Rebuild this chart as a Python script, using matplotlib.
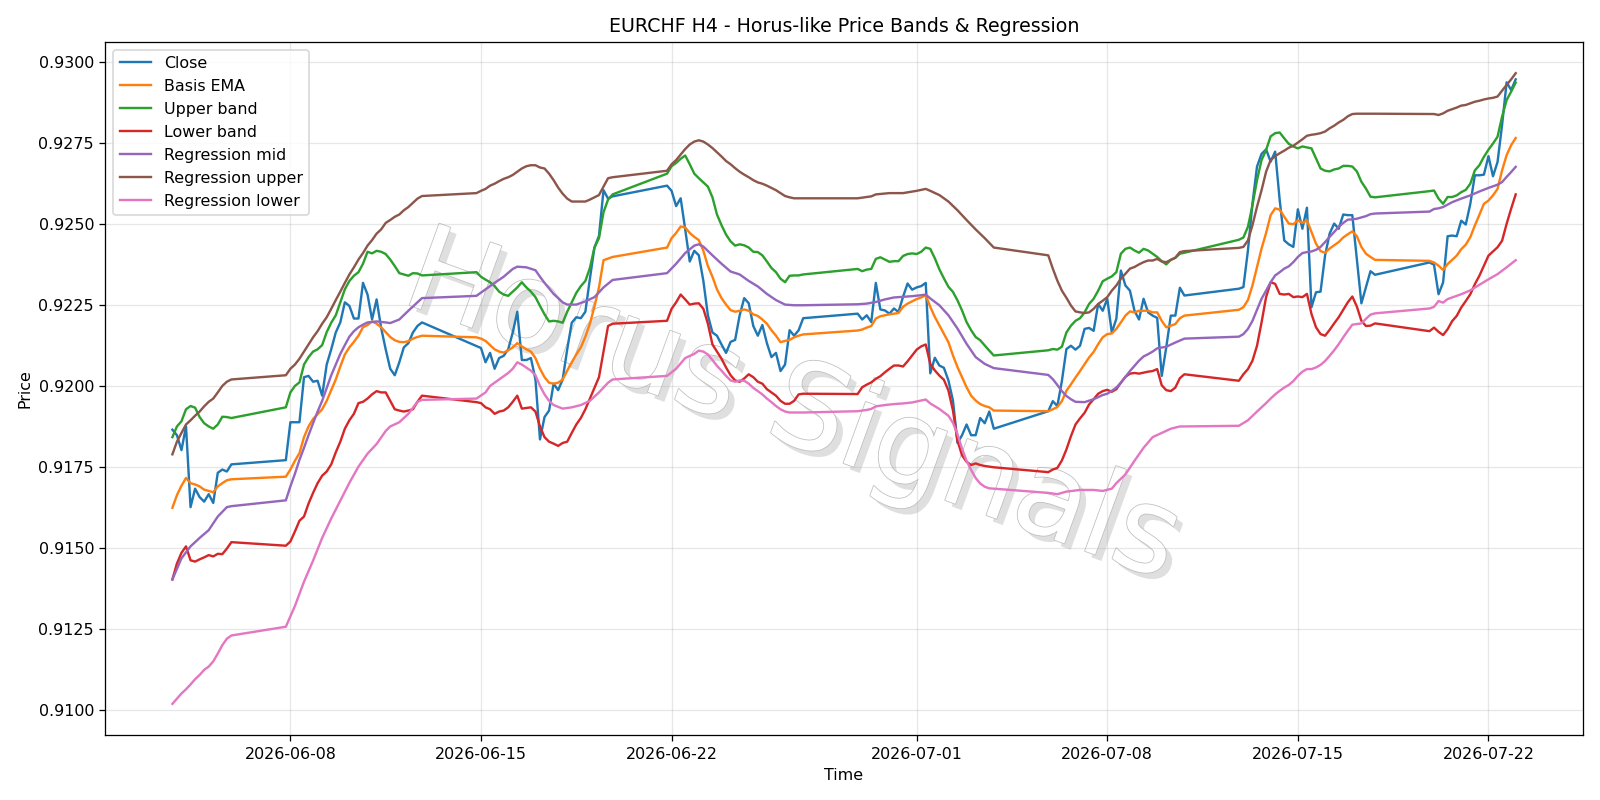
import matplotlib
matplotlib.use("Agg")
import matplotlib.pyplot as plt
import matplotlib.patheffects as pe
import pandas as pd

# H4 bars: Sunday 20:00 open ... Friday 20:00 last bar
ts = pd.date_range("2026-06-03 16:00", "2026-07-23 00:00", freq="4h")
ts = ts[(ts.dayofweek < 5) | ((ts.dayofweek == 6) & (ts.hour == 20))]

CLOSE = [
    0.91864, 0.91847, 0.91801, 0.91874, 0.91625, 0.91682, 0.91656, 0.91642, 0.91665, 0.91638, 0.91731, 0.91741, 0.91735, 0.91757,
    0.91770, 0.91887, 0.91887, 0.91887, 0.92026, 0.92030, 0.92012, 0.92015, 0.91969, 0.92065, 0.92112, 0.92164, 0.92195, 0.92257,
    0.92246, 0.92207, 0.92207, 0.92317, 0.92281, 0.92204, 0.92266, 0.92178, 0.92112, 0.92052, 0.92032, 0.92072, 0.92118, 0.92131,
    0.92164, 0.92184, 0.92195,
    0.92122, 0.92116, 0.92072, 0.92101, 0.92052, 0.92085, 0.92092, 0.92112, 0.92164, 0.92228, 0.92079, 0.92079, 0.92085, 0.92019,
    0.91834, 0.91903, 0.91923, 0.92006, 0.91986, 0.92019, 0.92112, 0.92194, 0.92211, 0.92208, 0.92228, 0.92330, 0.92426, 0.92462,
    0.92603, 0.92577, 0.92584,
    0.92617, 0.92601, 0.92554, 0.92578, 0.92482, 0.92383, 0.92416, 0.92402, 0.92323, 0.92217, 0.92164, 0.92154, 0.92127, 0.92101,
    0.92135, 0.92141, 0.92217, 0.92270, 0.92254, 0.92184, 0.92154, 0.92187, 0.92131, 0.92088, 0.92101, 0.92045, 0.92065, 0.92171,
    0.92154, 0.92171, 0.92208,
    0.92222, 0.92204, 0.92217, 0.92196, 0.92317, 0.92235, 0.92232, 0.92222, 0.92238, 0.92227, 0.92274, 0.92315, 0.92296, 0.92303,
    0.92307, 0.92317, 0.92038, 0.92086, 0.92062, 0.92055, 0.92016, 0.91954, 0.91823, 0.91847, 0.91880, 0.91847, 0.91847, 0.91900,
    0.91884, 0.91920, 0.91867,
    0.91921, 0.91952, 0.91937, 0.92014, 0.92113, 0.92123, 0.92111, 0.92123, 0.92175, 0.92178, 0.92169, 0.92252, 0.92231, 0.92268,
    0.92164, 0.92206, 0.92355, 0.92309, 0.92293, 0.92231, 0.92204, 0.92268, 0.92226, 0.92216, 0.92209, 0.92030, 0.92118, 0.92216,
    0.92216, 0.92302, 0.92278,
    0.92299, 0.92304, 0.92417, 0.92562, 0.92676, 0.92715, 0.92729, 0.92691, 0.92722, 0.92572, 0.92448, 0.92436, 0.92428, 0.92544,
    0.92484, 0.92549, 0.92242, 0.92288, 0.92290, 0.92402, 0.92469, 0.92500, 0.92484, 0.92528, 0.92526, 0.92526, 0.92390, 0.92254,
    0.92304, 0.92353, 0.92342,
    0.92380, 0.92373, 0.92282, 0.92318, 0.92461, 0.92463, 0.92461, 0.92509, 0.92497, 0.92561, 0.92649, 0.92649, 0.92651, 0.92708,
    0.92646, 0.92690, 0.92804, 0.92936, 0.92912, 0.92945,
]

BASIS = [
    0.91623, 0.91662, 0.91691, 0.91715, 0.91699, 0.91695, 0.91689, 0.91679, 0.91675, 0.91671, 0.91689, 0.91699, 0.91708, 0.91711,
    0.91719, 0.91741, 0.91768, 0.91792, 0.91841, 0.91874, 0.91897, 0.91912, 0.91927, 0.91953, 0.91986, 0.92019, 0.92059, 0.92096,
    0.92118, 0.92135, 0.92154, 0.92180, 0.92187, 0.92198, 0.92191, 0.92180, 0.92165, 0.92150, 0.92140, 0.92135, 0.92134, 0.92137,
    0.92145, 0.92150, 0.92154,
    0.92149, 0.92145, 0.92138, 0.92125, 0.92112, 0.92105, 0.92102, 0.92109, 0.92118, 0.92131, 0.92121, 0.92112, 0.92105, 0.92085,
    0.92052, 0.92026, 0.92009, 0.92006, 0.92009, 0.92019, 0.92046, 0.92072, 0.92096, 0.92118, 0.92151, 0.92191, 0.92244, 0.92303,
    0.92387, 0.92392, 0.92397,
    0.92426, 0.92455, 0.92471, 0.92491, 0.92488, 0.92471, 0.92459, 0.92449, 0.92416, 0.92369, 0.92336, 0.92297, 0.92270, 0.92250,
    0.92233, 0.92228, 0.92231, 0.92235, 0.92231, 0.92220, 0.92215, 0.92204, 0.92191, 0.92171, 0.92154, 0.92134, 0.92138, 0.92141,
    0.92149, 0.92154, 0.92158,
    0.92170, 0.92173, 0.92179, 0.92184, 0.92207, 0.92214, 0.92217, 0.92220, 0.92222, 0.92224, 0.92243, 0.92253, 0.92260, 0.92267,
    0.92272, 0.92279, 0.92243, 0.92212, 0.92186, 0.92160, 0.92134, 0.92093, 0.92057, 0.92026, 0.91995, 0.91969, 0.91954, 0.91943,
    0.91937, 0.91933, 0.91923,
    0.91921, 0.91927, 0.91934, 0.91952, 0.91984, 0.92004, 0.92025, 0.92045, 0.92066, 0.92087, 0.92104, 0.92128, 0.92149, 0.92159,
    0.92161, 0.92175, 0.92195, 0.92216, 0.92229, 0.92226, 0.92231, 0.92231, 0.92231, 0.92226, 0.92226, 0.92200, 0.92180, 0.92185,
    0.92190, 0.92208, 0.92216,
    0.92234, 0.92242, 0.92264, 0.92309, 0.92366, 0.92423, 0.92471, 0.92526, 0.92547, 0.92543, 0.92521, 0.92500, 0.92498, 0.92510,
    0.92502, 0.92510, 0.92474, 0.92438, 0.92415, 0.92410, 0.92423, 0.92433, 0.92443, 0.92457, 0.92467, 0.92476, 0.92461, 0.92428,
    0.92407, 0.92397, 0.92388,
    0.92385, 0.92380, 0.92370, 0.92357, 0.92375, 0.92388, 0.92401, 0.92421, 0.92435, 0.92458, 0.92494, 0.92527, 0.92561, 0.92571,
    0.92587, 0.92607, 0.92664, 0.92711, 0.92742, 0.92764,
]

UPPER = [
    0.91841, 0.91874, 0.91890, 0.91927, 0.91937, 0.91932, 0.91903, 0.91884, 0.91874, 0.91867, 0.91880, 0.91904, 0.91903, 0.91900,
    0.91933, 0.91979, 0.91999, 0.92010, 0.92065, 0.92088, 0.92105, 0.92112, 0.92125, 0.92165, 0.92194, 0.92217, 0.92257, 0.92297,
    0.92323, 0.92339, 0.92350, 0.92376, 0.92413, 0.92408, 0.92416, 0.92413, 0.92406, 0.92389, 0.92369, 0.92347, 0.92343, 0.92339,
    0.92347, 0.92346, 0.92340,
    0.92350, 0.92336, 0.92327, 0.92319, 0.92307, 0.92290, 0.92281, 0.92277, 0.92290, 0.92303, 0.92319, 0.92303, 0.92290, 0.92273,
    0.92246, 0.92220, 0.92198, 0.92200, 0.92198, 0.92194, 0.92228, 0.92257, 0.92286, 0.92307, 0.92323, 0.92363, 0.92426, 0.92455,
    0.92535, 0.92574, 0.92590,
    0.92654, 0.92677, 0.92687, 0.92700, 0.92710, 0.92683, 0.92654, 0.92640, 0.92627, 0.92614, 0.92581, 0.92528, 0.92495, 0.92466,
    0.92445, 0.92432, 0.92436, 0.92433, 0.92426, 0.92413, 0.92412, 0.92402, 0.92383, 0.92363, 0.92350, 0.92330, 0.92319, 0.92339,
    0.92340, 0.92340, 0.92343,
    0.92360, 0.92353, 0.92358, 0.92360, 0.92391, 0.92396, 0.92389, 0.92382, 0.92384, 0.92384, 0.92400, 0.92406, 0.92408, 0.92406,
    0.92413, 0.92426, 0.92422, 0.92393, 0.92359, 0.92331, 0.92305, 0.92289, 0.92263, 0.92232, 0.92196, 0.92171, 0.92150, 0.92140,
    0.92124, 0.92108, 0.92093,
    0.92109, 0.92113, 0.92111, 0.92120, 0.92164, 0.92185, 0.92200, 0.92208, 0.92226, 0.92252, 0.92268, 0.92293, 0.92322, 0.92330,
    0.92337, 0.92350, 0.92407, 0.92422, 0.92426, 0.92417, 0.92410, 0.92422, 0.92417, 0.92407, 0.92397, 0.92384, 0.92374, 0.92388,
    0.92394, 0.92407, 0.92410,
    0.92450, 0.92457, 0.92490, 0.92557, 0.92634, 0.92696, 0.92727, 0.92769, 0.92779, 0.92781, 0.92763, 0.92746, 0.92738, 0.92732,
    0.92738, 0.92735, 0.92732, 0.92701, 0.92670, 0.92663, 0.92661, 0.92667, 0.92670, 0.92678, 0.92678, 0.92676, 0.92661, 0.92629,
    0.92608, 0.92583, 0.92581,
    0.92600, 0.92602, 0.92577, 0.92561, 0.92582, 0.92582, 0.92587, 0.92597, 0.92604, 0.92623, 0.92664, 0.92680, 0.92706, 0.92728,
    0.92747, 0.92768, 0.92830, 0.92881, 0.92907, 0.92935,
]

LOWER = [
    0.91402, 0.91451, 0.91484, 0.91504, 0.91461, 0.91457, 0.91464, 0.91470, 0.91477, 0.91473, 0.91481, 0.91480, 0.91497, 0.91517,
    0.91506, 0.91519, 0.91550, 0.91583, 0.91596, 0.91636, 0.91669, 0.91699, 0.91722, 0.91735, 0.91757, 0.91794, 0.91827, 0.91867,
    0.91893, 0.91913, 0.91946, 0.91950, 0.91960, 0.91973, 0.91983, 0.91979, 0.91979, 0.91953, 0.91927, 0.91923, 0.91920, 0.91923,
    0.91927, 0.91950, 0.91969,
    0.91949, 0.91946, 0.91933, 0.91927, 0.91913, 0.91920, 0.91923, 0.91933, 0.91950, 0.91969, 0.91929, 0.91931, 0.91933, 0.91920,
    0.91874, 0.91841, 0.91827, 0.91821, 0.91814, 0.91823, 0.91827, 0.91854, 0.91880, 0.91900, 0.91927, 0.91960, 0.91993, 0.92026,
    0.92105, 0.92184, 0.92191,
    0.92200, 0.92237, 0.92257, 0.92281, 0.92266, 0.92250, 0.92253, 0.92254, 0.92237, 0.92191, 0.92127, 0.92105, 0.92083, 0.92056,
    0.92032, 0.92016, 0.92012, 0.92022, 0.92035, 0.92026, 0.92012, 0.92006, 0.91989, 0.91979, 0.91969, 0.91953, 0.91944, 0.91944,
    0.91953, 0.91973, 0.91975,
    0.91974, 0.91995, 0.92003, 0.92010, 0.92021, 0.92029, 0.92041, 0.92052, 0.92062, 0.92062, 0.92059, 0.92075, 0.92093, 0.92111,
    0.92121, 0.92127, 0.92067, 0.92047, 0.92031, 0.92018, 0.91985, 0.91923, 0.91830, 0.91785, 0.91765, 0.91755, 0.91760, 0.91755,
    0.91752, 0.91750, 0.91748,
    0.91733, 0.91741, 0.91746, 0.91769, 0.91803, 0.91844, 0.91880, 0.91899, 0.91916, 0.91942, 0.91958, 0.91975, 0.91983, 0.91987,
    0.91981, 0.91989, 0.92009, 0.92027, 0.92037, 0.92039, 0.92037, 0.92040, 0.92043, 0.92045, 0.92051, 0.92001, 0.91986, 0.91983,
    0.91994, 0.92023, 0.92035,
    0.92015, 0.92035, 0.92051, 0.92077, 0.92123, 0.92195, 0.92273, 0.92319, 0.92314, 0.92283, 0.92281, 0.92283, 0.92273, 0.92275,
    0.92273, 0.92283, 0.92221, 0.92180, 0.92159, 0.92154, 0.92172, 0.92192, 0.92211, 0.92234, 0.92257, 0.92275, 0.92244, 0.92200,
    0.92184, 0.92185, 0.92192,
    0.92168, 0.92179, 0.92166, 0.92156, 0.92174, 0.92199, 0.92215, 0.92241, 0.92261, 0.92282, 0.92313, 0.92339, 0.92370, 0.92401,
    0.92414, 0.92427, 0.92447, 0.92499, 0.92546, 0.92590,
]

# regression channel, read at the bars where the line visibly bends
REG_MID_I = [0, 2, 4, 6, 8, 10, 12, 13, 14, 15, 16, 17, 18, 19, 20, 21, 22, 23, 24, 25, 26, 27, 28, 29, 30, 31, 32, 34, 36, 37,
             39, 41, 43, 44, 45, 47, 49, 51, 53, 54, 56, 58, 59, 60, 62, 64, 65, 67, 69, 71, 73, 75, 76, 78, 80, 82, 83, 84,
             86, 88, 90, 92, 94, 96, 98, 100, 102, 104, 106, 107, 109, 111, 113, 115, 117, 119, 121, 122, 123, 125, 127, 129,
             131, 133, 135, 137, 138, 139, 140, 141, 142, 143, 144, 146, 148, 150, 151, 152, 153, 154, 155, 156, 157, 158, 159,
             160, 161, 162, 164, 166, 168, 169, 170, 171, 172, 173, 174, 175, 176, 177, 178, 179, 180, 181, 182, 183, 184, 185,
             186, 187, 188, 189, 190, 191, 192, 193, 194, 195, 196, 197, 198, 199, 200, 201, 202, 203, 205, 207, 209, 211, 213,
             215, 216, 217, 218, 219]
REG_MID_V = [0.91402, 0.91467, 0.91504, 0.91530, 0.91554, 0.91596, 0.91625, 0.91628, 0.91646, 0.91689, 0.91728, 0.91771, 0.91808,
             0.91847, 0.91884, 0.91920, 0.91953, 0.91993, 0.92032, 0.92065, 0.92098, 0.92125, 0.92151, 0.92168, 0.92180, 0.92188,
             0.92195, 0.92198, 0.92195, 0.92193, 0.92204, 0.92231, 0.92257, 0.92270, 0.92277, 0.92297, 0.92317, 0.92336, 0.92360,
             0.92367, 0.92365, 0.92356, 0.92336, 0.92317, 0.92283, 0.92257, 0.92250, 0.92250, 0.92260, 0.92273, 0.92303, 0.92326,
             0.92347, 0.92376, 0.92409, 0.92432, 0.92436, 0.92429, 0.92402, 0.92376, 0.92352, 0.92343, 0.92323, 0.92306, 0.92283,
             0.92264, 0.92250, 0.92248, 0.92248, 0.92251, 0.92253, 0.92258, 0.92266, 0.92272, 0.92274, 0.92276, 0.92279, 0.92281,
             0.92269, 0.92248, 0.92217, 0.92176, 0.92129, 0.92088, 0.92067, 0.92054, 0.92033, 0.92020, 0.92002, 0.91983, 0.91968,
             0.91958, 0.91950, 0.91949, 0.91958, 0.91971, 0.91975, 0.91984, 0.91994, 0.92009, 0.92027, 0.92045, 0.92061, 0.92077,
             0.92090, 0.92097, 0.92105, 0.92115, 0.92120, 0.92133, 0.92145, 0.92151, 0.92159, 0.92175, 0.92200, 0.92234, 0.92268,
             0.92293, 0.92319, 0.92340, 0.92350, 0.92361, 0.92368, 0.92381, 0.92397, 0.92409, 0.92412, 0.92414, 0.92419, 0.92428,
             0.92443, 0.92459, 0.92474, 0.92490, 0.92502, 0.92512, 0.92513, 0.92515, 0.92519, 0.92523, 0.92529, 0.92531, 0.92537,
             0.92545, 0.92547, 0.92551, 0.92566, 0.92577, 0.92587, 0.92599, 0.92610, 0.92620, 0.92628, 0.92644, 0.92659, 0.92675]

REG_UP_I = list(range(0, 108)) + [110, 111, 114, 117, 120, 122, 123, 125, 127, 129, 131, 133, 135, 137] + list(range(138, 220))
REG_UP_V = [
    0.91788, 0.91827, 0.91854, 0.91880, 0.91893, 0.91907, 0.91920, 0.91936, 0.91950, 0.91960, 0.91979, 0.91999, 0.92012, 0.92019,
    0.92032, 0.92052, 0.92065, 0.92083, 0.92105, 0.92127, 0.92149, 0.92168, 0.92191, 0.92211, 0.92237, 0.92264, 0.92290, 0.92317,
    0.92343, 0.92365, 0.92389, 0.92409, 0.92432, 0.92449, 0.92469, 0.92482, 0.92502, 0.92511, 0.92521, 0.92528, 0.92541, 0.92551,
    0.92564, 0.92577, 0.92585,
    0.92594, 0.92601, 0.92607, 0.92617, 0.92623, 0.92631, 0.92638, 0.92643, 0.92650, 0.92660, 0.92670, 0.92677, 0.92680, 0.92680,
    0.92673, 0.92670, 0.92654, 0.92634, 0.92611, 0.92592, 0.92577, 0.92568, 0.92568, 0.92568, 0.92568, 0.92574, 0.92581, 0.92588,
    0.92614, 0.92640, 0.92643,
    0.92663, 0.92683, 0.92696, 0.92713, 0.92730, 0.92744, 0.92753, 0.92757, 0.92753, 0.92744, 0.92733, 0.92720, 0.92707, 0.92693,
    0.92683, 0.92671, 0.92660, 0.92651, 0.92643, 0.92634, 0.92627, 0.92623, 0.92617, 0.92610, 0.92603, 0.92594, 0.92585, 0.92581,
    0.92578, 0.92578, 0.92578,
    0.92578, 0.92584, 0.92590, 0.92594, 0.92594, 0.92601, 0.92607, 0.92601, 0.92588, 0.92568, 0.92541, 0.92511, 0.92482, 0.92455,
    0.92426,
    0.92402, 0.92361, 0.92324, 0.92293, 0.92271, 0.92247, 0.92229, 0.92226, 0.92224, 0.92226, 0.92237, 0.92252, 0.92262, 0.92273,
    0.92293, 0.92309, 0.92330, 0.92345, 0.92361, 0.92366, 0.92374, 0.92381, 0.92386, 0.92386, 0.92391, 0.92383, 0.92381, 0.92388,
    0.92395, 0.92412, 0.92415,
    0.92425, 0.92428, 0.92448, 0.92495, 0.92552, 0.92603, 0.92660, 0.92696, 0.92708, 0.92717, 0.92725, 0.92734, 0.92740, 0.92750,
    0.92760, 0.92771, 0.92774, 0.92776, 0.92779, 0.92784, 0.92794, 0.92802, 0.92812, 0.92820, 0.92831, 0.92838, 0.92839, 0.92839,
    0.92839, 0.92839, 0.92839,
    0.92838, 0.92838, 0.92835, 0.92840, 0.92848, 0.92853, 0.92858, 0.92864, 0.92866, 0.92871, 0.92876, 0.92879, 0.92883, 0.92886,
    0.92888, 0.92892, 0.92910, 0.92928, 0.92945, 0.92964,
]

REG_LO_I = list(range(0, 15)) + [16, 18, 20, 22, 24, 26, 28, 30, 32, 34, 36, 37, 39, 41, 43, 44,
                                 45, 47, 48, 50, 52, 53, 54, 55, 57, 58, 59, 60, 61, 62, 64, 66, 68, 70, 72, 74, 75,
                                 76, 78, 80, 82, 83, 84, 85, 86, 87, 88, 89, 90, 91, 92, 93, 94, 95, 96, 97, 98, 99, 100,
                                 101, 102, 103, 106, 107, 109, 110, 111, 113, 115, 117, 119, 121, 122, 123, 125, 127, 128,
                                 129, 130, 131, 132, 133, 134, 135, 136, 137, 138, 140, 142, 145, 148, 150, 152, 153, 155,
                                 157, 159, 161, 163, 165, 167, 168, 169, 171, 173, 175] + list(range(176, 201)) + \
           [201, 202, 203, 204, 205, 207, 209, 211, 213, 215, 217, 219]
REG_LO_V = [
    0.91018, 0.91034, 0.91050, 0.91063, 0.91078, 0.91094, 0.91107, 0.91123, 0.91133, 0.91149, 0.91173, 0.91199, 0.91219, 0.91229,
    0.91256,
    0.91320, 0.91395, 0.91460, 0.91530, 0.91590, 0.91645, 0.91700, 0.91750, 0.91790, 0.91820, 0.91860, 0.91874, 0.91887, 0.91913,
    0.91950, 0.91956,
    0.91960, 0.91979, 0.91999, 0.92019, 0.92039, 0.92052, 0.92072, 0.92065, 0.92046, 0.92032, 0.91999, 0.91973, 0.91953, 0.91940,
    0.91929, 0.91933, 0.91940, 0.91953, 0.91979, 0.92009, 0.92019,
    0.92030, 0.92052, 0.92085, 0.92098, 0.92108, 0.92105, 0.92096, 0.92079, 0.92061, 0.92046, 0.92030, 0.92016, 0.92012, 0.92016,
    0.92015, 0.92006, 0.91993, 0.91983, 0.91973, 0.91960, 0.91949, 0.91937, 0.91927, 0.91920, 0.91917, 0.91917,
    0.91921, 0.91925, 0.91928, 0.91936, 0.91940, 0.91943, 0.91945, 0.91948, 0.91954, 0.91957, 0.91945, 0.91928, 0.91907, 0.91885,
    0.91850, 0.91805, 0.91768, 0.91740, 0.91715, 0.91698, 0.91688, 0.91683, 0.91682,
    0.91669, 0.91665, 0.91673, 0.91678, 0.91678, 0.91675, 0.91682, 0.91699, 0.91726, 0.91768, 0.91808, 0.91841, 0.91854, 0.91867,
    0.91874, 0.91874,
    0.91876, 0.91893, 0.91920, 0.91946,
    0.91960, 0.91973, 0.91984, 0.91994, 0.92002, 0.92014, 0.92030, 0.92043, 0.92051, 0.92051, 0.92056, 0.92064, 0.92076, 0.92092,
    0.92109, 0.92128, 0.92149, 0.92169, 0.92188, 0.92190, 0.92192, 0.92206, 0.92219, 0.92223,
    0.92238,
    0.92243, 0.92261, 0.92256, 0.92267, 0.92272, 0.92282, 0.92294, 0.92311, 0.92328, 0.92344, 0.92365, 0.92387,
]

fig, ax = plt.subplots(figsize=(14, 7), dpi=800 / 7)

ax.plot(ts, CLOSE, label="Close")
ax.plot(ts, BASIS, label="Basis EMA")
ax.plot(ts, UPPER, label="Upper band")
ax.plot(ts, LOWER, label="Lower band")
ax.plot(ts[REG_MID_I], REG_MID_V, label="Regression mid")
ax.plot(ts[REG_UP_I], REG_UP_V, label="Regression upper")
ax.plot(ts[REG_LO_I], REG_LO_V, label="Regression lower")

# watermark
ax.text(0.465, 0.47, "Horus Signals", transform=ax.transAxes, ha="center", va="center",
        fontsize=75, rotation=-20, color="white", zorder=0.5,
        path_effects=[pe.SimplePatchShadow(offset=(4, -4), shadow_rgbFace="0.65", alpha=0.35),
                      pe.withStroke(linewidth=1.0, foreground="0.75")])

ax.set_title("EURCHF H4 - Horus-like Price Bands & Regression")
ax.set_xlabel("Time")
ax.set_ylabel("Price")
ax.grid(True, alpha=0.3)
ax.legend(loc="upper left")

fig.tight_layout()
fig.savefig("out.png", dpi=fig.dpi)
